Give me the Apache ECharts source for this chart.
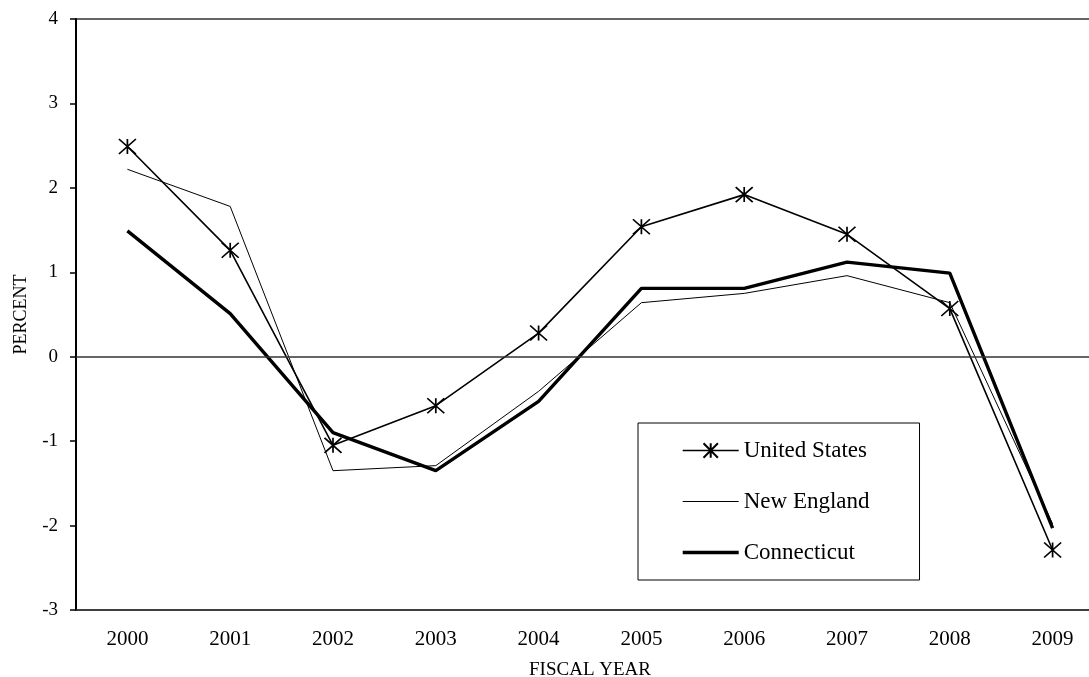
<!DOCTYPE html>
<html>
<head>
<meta charset="utf-8">
<script src="https://cdn.jsdelivr.net/npm/echarts@6/dist/echarts.min.js"></script>
<style>
  html, body { margin: 0; padding: 0; background: #fff; }
  #chart { width: 1089px; height: 677px; }
</style>
</head>
<body>
<div id="chart"></div>
<script>
// Fiscal years on the category axis
const years = ['2000', '2001', '2002', '2003', '2004', '2005', '2006', '2007', '2008', '2009'];

// Annual change, percent
const unitedStates = [2.49, 1.26, -1.05, -0.58, 0.28, 1.54, 1.92, 1.45, 0.57, -2.29];
const newEngland   = [2.22, 1.78, -1.35, -1.29, -0.41, 0.64, 0.75, 0.96, 0.64, -1.98];
const connecticut  = [1.49, 0.51, -0.90, -1.35, -0.53, 0.81, 0.81, 1.12, 0.99, -2.03];

// Value axis range and step
const yMin = -3;
const yMax = 4;
const yStep = 1;

const serif = 'Liberation Serif, Times New Roman, serif';
// Six-armed asterisk marker (X plus a vertical stroke)
const asterisk = 'path://M0,0L2,2M2,0L0,2M1,0L1,2';

// Line weights per series (used by the plot and the legend keys)
const widthUS = 1.6;
const widthNE = 1;
const widthCT = 3.4;

const chart = echarts.init(document.getElementById('chart'), null, { renderer: 'canvas' });

chart.setOption({
  animation: false,
  backgroundColor: '#ffffff',
  grid: {
    left: 76,
    top: 19,
    width: 1028,
    height: 591,
    outerBoundsMode: 'none',
    containLabel: false,
    show: true,
    borderColor: '#333',
    borderWidth: 1.5,
    backgroundColor: 'transparent'
  },
  legend: {
    orient: 'vertical',
    left: 638,
    top: 423,
    padding: [16, 50, 16, 43],
    itemWidth: 56,
    itemHeight: 18,
    itemGap: 28,
    borderColor: '#000',
    borderWidth: 1,
    backgroundColor: '#fff',
    textStyle: { fontFamily: serif, fontSize: 23, color: '#000', lineHeight: 23 },
    data: [
      { name: 'United States', lineStyle: { width: widthUS, color: '#000' } },
      { name: 'New England', lineStyle: { width: widthNE, color: '#000' } },
      { name: 'Connecticut', lineStyle: { width: widthCT, color: '#000' } }
    ]
  },
  xAxis: {
    type: 'category',
    data: years,
    boundaryGap: true,
    name: 'FISCAL YEAR',
    nameLocation: 'middle',
    nameGap: 51,
    nameTextStyle: { fontFamily: serif, fontSize: 19, color: '#000' },
    axisLine: { show: true, onZero: false, lineStyle: { color: '#333', width: 1.5 } },
    axisTick: { show: false },
    axisLabel: { fontFamily: serif, fontSize: 21, color: '#000', margin: 19 },
    splitLine: { show: false }
  },
  yAxis: {
    type: 'value',
    min: yMin,
    max: yMax,
    interval: yStep,
    name: 'PERCENT',
    nameLocation: 'middle',
    nameGap: 46,
    nameRotate: 90,
    nameTextStyle: { fontFamily: serif, fontSize: 18, color: '#000' },
    axisLine: { show: true, lineStyle: { color: '#000', width: 2 } },
    axisTick: { show: true, inside: false, length: 6, lineStyle: { color: '#000', width: 1.5 } },
    axisLabel: { fontFamily: serif, fontSize: 19, color: '#000', margin: 18 },
    splitLine: { show: false }
  },
  series: [
    {
      name: 'United States',
      type: 'line',
      data: unitedStates,
      symbol: asterisk,
      symbolSize: [17, 15],
      showSymbol: true,
      lineStyle: { color: '#000', width: widthUS },
      itemStyle: { color: 'none', borderColor: '#000', borderWidth: 1.6 },
      emphasis: { disabled: true },
      z: 4,
      markLine: {
        silent: true,
        symbol: ['none', 'none'],
        label: { show: false },
        lineStyle: { color: '#333', width: 1.5, type: 'solid' },
        data: [{ yAxis: 0 }]
      }
    },
    {
      name: 'New England',
      type: 'line',
      data: newEngland,
      symbol: 'none',
      lineStyle: { color: '#000', width: widthNE },
      itemStyle: { color: 'transparent', borderColor: 'transparent', borderWidth: 0 },
      emphasis: { disabled: true },
      z: 3
    },
    {
      name: 'Connecticut',
      type: 'line',
      data: connecticut,
      symbol: 'none',
      lineStyle: { color: '#000', width: widthCT },
      itemStyle: { color: 'transparent', borderColor: 'transparent', borderWidth: 0 },
      emphasis: { disabled: true },
      z: 3
    }
  ]
});
</script>
</body>
</html>
